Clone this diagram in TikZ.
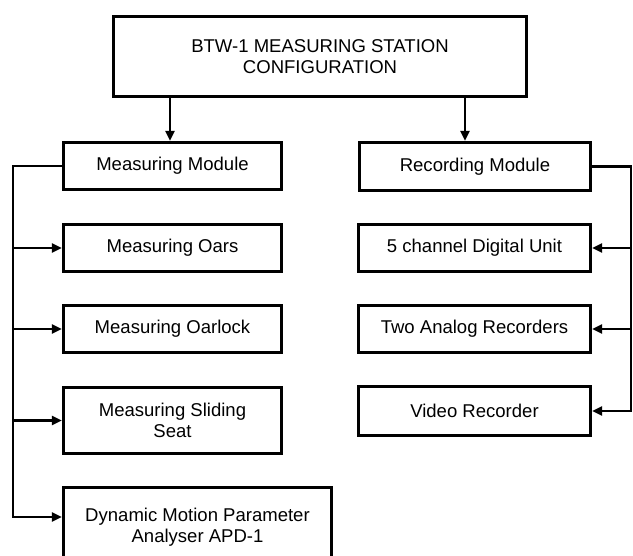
\documentclass[tikz,border=0pt]{standalone}
\usepackage{fontspec}
\setmainfont{Liberation Sans}
\usetikzlibrary{arrows.meta}

\tikzset{
    unitbox/.style={draw, line width=3.2bp, align=center, inner sep=2bp,
        font=\fontsize{18.6}{21.5}\selectfont},
    link/.style={line width=2.6bp, -{Triangle[length=10bp,width=9bp]}}
}

\begin{document}
\begin{tikzpicture}[x=1bp, y=-1bp]
    \useasboundingbox (0,0) rectangle (633,556);

    % Title
    \node[unitbox, minimum width=413bp, minimum height=80bp] (station) at (320,56.5)
        {BTW-1 MEASURING STATION\\CONFIGURATION};

    % Modules
    \node[unitbox, minimum width=218bp, minimum height=47bp] (measuring) at (172.5,166) {Measuring Module};
    \node[unitbox, minimum width=231bp, minimum height=48bp] (recording) at (475,166.5) {Recording Module};

    % Measuring side
    \node[unitbox, minimum width=218bp, minimum height=47bp] (oars) at (172.5,248) {Measuring Oars};
    \node[unitbox, minimum width=218bp, minimum height=47bp] (oarlock) at (172.5,329) {Measuring Oarlock};
    \node[unitbox, minimum width=218bp, minimum height=66bp] (sliding) at (172.5,420.5) {Measuring Sliding\\Seat};
    \node[unitbox, minimum width=268bp, minimum height=79bp] (dmpa) at (197.5,527) {Dynamic Motion Parameter\\Analyser APD-1};

    % Recording side
    \node[unitbox, minimum width=232bp, minimum height=47bp] (digital) at (474.5,248) {5 channel Digital Unit};
    \node[unitbox, minimum width=232bp, minimum height=47bp] (analog) at (474.5,329) {Two Analog Recorders};
    \node[unitbox, minimum width=232bp, minimum height=49bp] (video) at (474.5,411) {Video Recorder};

    % Drops from the title
    \coordinate (dropL) at (170,0);
    \coordinate (dropR) at (465,0);
    \draw[link] (station.south -| dropL) -- (measuring.north -| dropL);
    \draw[link] (station.south -| dropR) -- (recording.north -| dropR);

    % Left bus
    \coordinate (busL) at (13,0);
    \coordinate (dmpa in) at ([yshift=10bp]dmpa.west);
    \draw[link] (measuring.west) -- (measuring.west -| busL) |- (dmpa in);
    \foreach \n in {oars,oarlock,sliding}
        \draw[link] (busL |- \n.west) -- (\n.west);

    % Right bus
    \coordinate (busR) at (631,0);
    \draw[link] (recording.east) -- (recording.east -| busR) |- (video.east);
    \foreach \n in {digital,analog}
        \draw[link] (busR |- \n.east) -- (\n.east);
\end{tikzpicture}
\end{document}
